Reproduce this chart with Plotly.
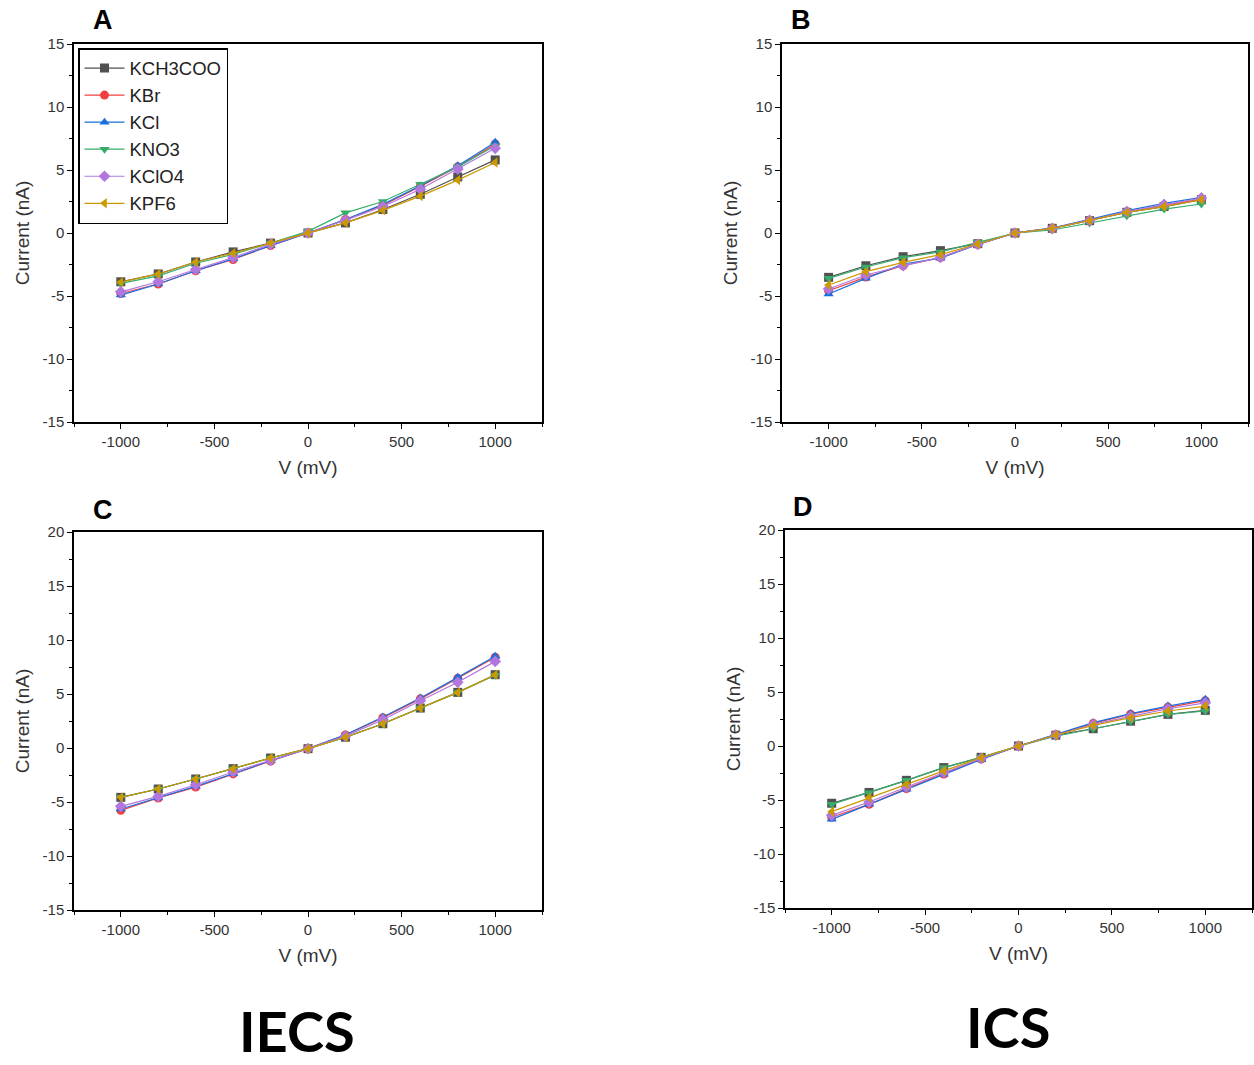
import plotly.graph_objects as go

W, H = 1254, 1065

voltage = [-1000, -800, -600, -400, -200, 0, 200, 400, 600, 800, 1000]
salts = ["KCH3COO", "KBr", "KCl", "KNO3", "KClO4", "KPF6"]
colors = ["#515151", "#F14040", "#1A6FDF", "#37AD6B", "#B177DE", "#CC9900"]
symbols = ["square", "circle", "triangle-up", "triangle-down", "diamond", "triangle-left"]
x_ticks = [-1000, -500, 0, 500, 1000]
y_ticks_top = [-15, -10, -5, 0, 5, 10, 15]
y_ticks_bottom = [-15, -10, -5, 0, 5, 10, 15, 20]

# Panel A (IECS, top)
A_KCH3COO = [-3.87, -3.25, -2.3, -1.5, -0.8, 0.0, 0.8, 1.87, 3.07, 4.45, 5.8]
A_KBr     = [-4.8, -4.05, -3.0, -2.1, -1.0, 0.0, 1.07, 2.2, 3.7, 5.25, 7.07]
A_KCl     = [-4.93, -4.05, -3.0, -2.05, -1.0, 0.0, 1.07, 2.27, 3.75, 5.33, 7.2]
A_KNO3    = [-4.0, -3.4, -2.4, -1.7, -0.8, 0.13, 1.6, 2.5, 3.87, 5.25, 6.93]
A_KClO4   = [-4.67, -3.87, -2.9, -1.95, -0.9, 0.0, 1.02, 2.1, 3.47, 5.07, 6.72]
A_KPF6    = [-3.9, -3.25, -2.3, -1.6, -0.8, 0.0, 0.8, 1.8, 2.93, 4.2, 5.6]

# Panel B (ICS, top)
B_KCH3COO = [-3.52, -2.6, -1.88, -1.4, -0.85, 0.0, 0.37, 0.98, 1.64, 2.1, 2.64]
B_KBr     = [-4.58, -3.5, -2.6, -1.95, -0.9, 0.0, 0.37, 1.0, 1.68, 2.2, 2.7]
B_KCl     = [-4.84, -3.6, -2.46, -2.0, -0.9, 0.0, 0.4, 1.1, 1.77, 2.35, 2.83]
B_KNO3    = [-3.6, -2.7, -1.96, -1.5, -0.74, 0.0, 0.24, 0.8, 1.37, 1.9, 2.3]
B_KClO4   = [-4.44, -3.33, -2.6, -1.93, -0.9, 0.0, 0.37, 1.0, 1.7, 2.25, 2.78]
B_KPF6    = [-4.13, -3.07, -2.33, -1.72, -0.87, 0.0, 0.37, 0.98, 1.64, 2.1, 2.64]

# Panel C (IECS, bottom)
C_KCH3COO = [-4.57, -3.8, -2.87, -1.91, -0.93, -0.06, 1.0, 2.25, 3.7, 5.15, 6.79]
C_KBr     = [-5.77, -4.63, -3.62, -2.4, -1.2, -0.06, 1.2, 2.8, 4.55, 6.45, 8.4]
C_KCl     = [-5.65, -4.63, -3.55, -2.38, -1.18, -0.06, 1.23, 2.87, 4.63, 6.54, 8.49]
C_KNO3    = [-4.57, -3.8, -2.87, -1.91, -0.93, -0.06, 1.0, 2.25, 3.7, 5.15, 6.73]
C_KClO4   = [-5.4, -4.48, -3.4, -2.22, -1.14, -0.06, 1.1, 2.62, 4.38, 6.08, 8.02]
C_KPF6    = [-4.57, -3.8, -2.87, -1.91, -0.93, -0.06, 1.0, 2.25, 3.7, 5.15, 6.79]

# Panel D (ICS, bottom)
D_KCH3COO = [-5.3, -4.3, -3.18, -2.0, -1.05, 0.0, 1.0, 1.6, 2.3, 2.93, 3.3]
D_KBr     = [-6.6, -5.4, -3.95, -2.6, -1.2, 0.0, 1.05, 2.1, 2.95, 3.6, 4.2]
D_KCl     = [-6.79, -5.4, -4.0, -2.62, -1.25, 0.0, 1.08, 2.16, 3.0, 3.7, 4.32]
D_KNO3    = [-5.4, -4.32, -3.18, -2.0, -1.05, 0.0, 0.9, 1.6, 2.3, 2.93, 3.24]
D_KClO4   = [-6.42, -5.19, -3.8, -2.45, -1.15, 0.0, 1.02, 2.0, 2.75, 3.45, 4.0]
D_KPF6    = [-6.08, -4.78, -3.55, -2.3, -1.08, 0.0, 1.02, 1.91, 2.62, 3.24, 3.7]

panels = [
    ("A", [A_KCH3COO, A_KBr, A_KCl, A_KNO3, A_KClO4, A_KPF6], [-15, 15], y_ticks_top, (74, 542, 44, 422)),
    ("B", [B_KCH3COO, B_KBr, B_KCl, B_KNO3, B_KClO4, B_KPF6], [-15, 15], y_ticks_top, (782, 1248, 44, 422)),
    ("C", [C_KCH3COO, C_KBr, C_KCl, C_KNO3, C_KClO4, C_KPF6], [-15, 20], y_ticks_bottom, (74, 542, 532, 910)),
    ("D", [D_KCH3COO, D_KBr, D_KCl, D_KNO3, D_KClO4, D_KPF6], [-15, 20], y_ticks_bottom, (785, 1252, 530, 908)),
]
label_pos = {"A": (103, 20), "B": (801, 20), "C": (103, 510), "D": (803, 507)}
bottom_titles = [("IECS", 297, 1030), ("ICS", 1008, 1026)]


def lab(v):
    return str(v).replace("\u2212", "-")


fig = go.Figure()
layout = dict(
    width=W, height=H, margin=dict(l=0, r=0, t=0, b=0, autoexpand=False),
    paper_bgcolor="white", plot_bgcolor="white",
    font=dict(family="Liberation Sans, Arial, sans-serif", color="#222"),
    showlegend=True,
    legend=dict(x=78 / W, y=1 - 48 / H, xanchor="left", yanchor="top",
                bordercolor="black", borderwidth=1.5, bgcolor="white",
                font=dict(size=18.5, color="#222"), tracegroupgap=0,
                itemwidth=40),
)
annotations = []
for i, (pl, series, yr, yt, (x0, x1, y0, y1)) in enumerate(panels):
    n = "" if i == 0 else str(i + 1)
    xa, ya = "x" + n, "y" + n
    for j, name in enumerate(salts):
        fig.add_trace(go.Scatter(
            x=voltage, y=series[j], xaxis=xa, yaxis=ya, name=name,
            mode="lines+markers", showlegend=(i == 0),
            line=dict(color=colors[j], width=1.2),
            marker=dict(symbol=symbols[j], size=9, color=colors[j]),
        ))
    common = dict(showline=True, linecolor="black", linewidth=1.5, mirror=True,
                  ticks="outside", ticklen=5, tickcolor="black", tickwidth=1.2,
                  showgrid=False, zeroline=False, automargin=False,
                  tickfont=dict(size=15, color="#333"))
    minor = dict(ticks="outside", ticklen=3, tickcolor="black", tickwidth=1)
    layout["xaxis" + n] = dict(common, domain=[x0 / W, x1 / W], range=[-1250, 1250],
                               tickvals=x_ticks, ticktext=[lab(v) for v in x_ticks],
                               minor=dict(minor, dtick=250, tick0=-1250),
                               anchor=ya,
                               title=dict(text="V (mV)", font=dict(size=19, color="#333"), standoff=12))
    layout["yaxis" + n] = dict(common, domain=[1 - y1 / H, 1 - y0 / H], range=yr,
                               tickvals=yt, ticktext=[lab(v) for v in yt],
                               minor=dict(minor, dtick=2.5, tick0=0),
                               anchor=xa,
                               title=dict(text="Current (nA)", font=dict(size=19, color="#333"), standoff=8))
    lx, ly = label_pos[pl]
    annotations.append(dict(text="<b>" + pl + "</b>", x=lx / W, y=1 - ly / H, xref="paper", yref="paper",
                            showarrow=False, font=dict(size=27, color="black"),
                            xanchor="center", yanchor="middle"))
for txt, tx, ty in bottom_titles:
    annotations.append(dict(text="<b>" + txt + "</b>", x=tx / W, y=1 - ty / H, xref="paper", yref="paper",
                            showarrow=False,
                            font=dict(size=56, color="black", family="Lato, Liberation Sans, Arial"),
                            xanchor="center", yanchor="middle"))
layout["annotations"] = annotations
fig.update_layout(**layout)
fig.write_html("out.html", config={"displayModeBar": False},
               post_script="document.body.style.margin='0';document.body.style.overflow='hidden';")
